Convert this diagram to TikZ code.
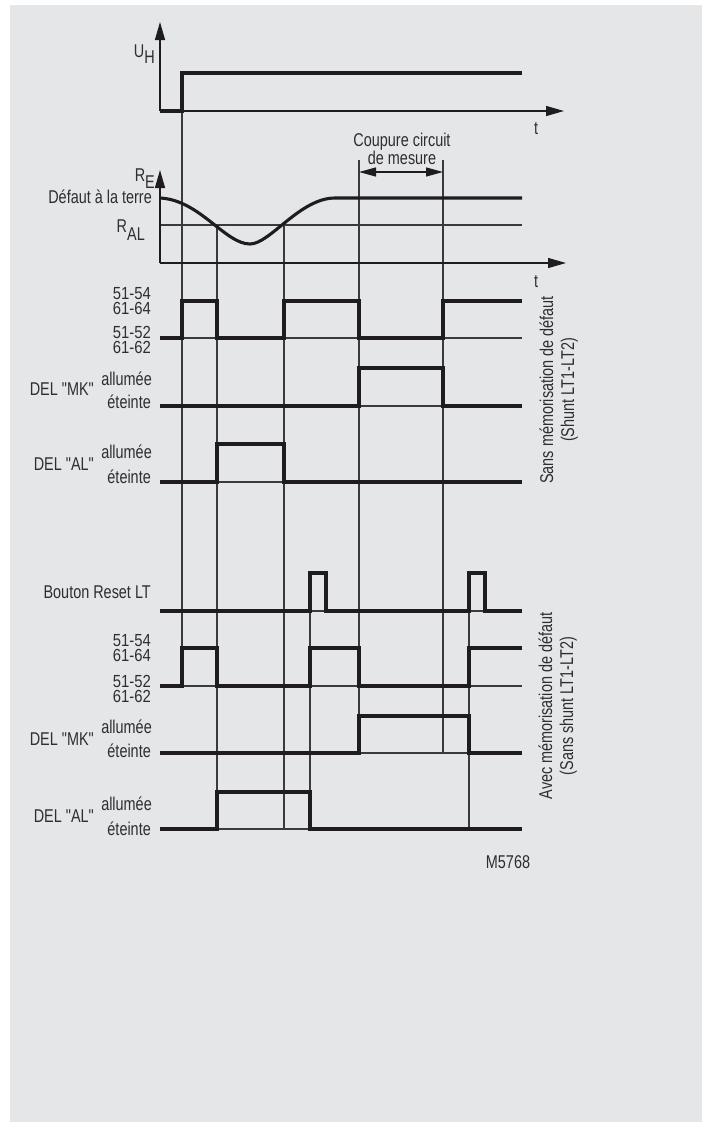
\documentclass[tikz,border=0pt]{standalone}
\usepackage{fontspec}
\setmainfont{Liberation Sans}[FakeStretch=0.78, Ligatures=TeXOff]
\usetikzlibrary{arrows.meta}
\definecolor{bg}{HTML}{E5E6E8}
\definecolor{ink}{HTML}{1E1C1D}
\definecolor{thinc}{HTML}{3A3A3A}
\definecolor{txt}{HTML}{2E2E2E}
\begin{document}
\begin{tikzpicture}[x=1pt,y=-1pt,
  sig/.style={line width=3.1pt, draw=ink, line join=miter, line cap=butt},
  gridl/.style={line width=1.15pt, draw=thinc},
  axisl/.style={line width=1.35pt, draw=ink, -{Triangle[length=18pt,width=10pt]}},
  dimarr/.style={line width=1.25pt, draw=ink, {Triangle[length=17pt,width=9pt]}-{Triangle[length=17pt,width=9pt]}},
  lbl/.style={font=\fontsize{18.5}{14}\selectfont, text=txt, inner sep=0pt},
  num/.style={lbl, font=\fontsize{17.5}{14}\selectfont\addfontfeatures{FakeStretch=0.85}},
  ]
\useasboundingbox (0,0) rectangle (702,1122);
\fill[bg] (10,5) rectangle (702,1122);

% ---------- thin grid lines ----------
\draw[gridl] (182,73) -- (182,686);
\draw[gridl] (217,225) -- (217,830);
\draw[gridl] (284,225) -- (284,830);
\draw[gridl] (359,160) -- (359,753);
\draw[gridl] (443,160) -- (443,753);
\draw[gridl] (310,573) -- (310,830);
\draw[gridl] (469,573) -- (469,830);

\draw[gridl] (160,225) -- (522,225);
\draw[gridl] (160,338) -- (522,338);
\draw[gridl] (160,406) -- (522,406);
\draw[gridl] (160,482) -- (522,482);
\draw[gridl] (160,611) -- (522,611);
\draw[gridl] (160,686) -- (522,686);
\draw[gridl] (160,753) -- (522,753);
\draw[gridl] (160,829) -- (522,829);

% ---------- axes ----------
\draw[axisl] (160,111) -- (160,22);
\draw[axisl] (160,111) -- (564,111);
\draw[axisl] (160,263) -- (160,170);
\draw[axisl] (160,263) -- (566,263);

% ---------- dimension arrow ----------
\draw[dimarr] (359,172) -- (443,172);

% ---------- signals ----------
\draw[sig] (160,111) -- (182,111) -- (182,73) -- (522,73);
\draw[sig] (160,198) .. controls (200,200) and (225,244) .. (250,244)
                     .. controls (270,244) and (300,198) .. (335,198) -- (522,198);
\draw[sig] (160,338) -- (182,338) -- (182,301) -- (217,301) -- (217,338) -- (284,338)
           -- (284,301) -- (359,301) -- (359,338) -- (443,338) -- (443,301) -- (522,301);
\draw[sig] (160,406) -- (359,406) -- (359,368) -- (443,368) -- (443,406) -- (522,406);
\draw[sig] (160,482) -- (217,482) -- (217,444) -- (284,444) -- (284,482) -- (522,482);
\draw[sig] (160,611) -- (310,611) -- (310,573) -- (326,573) -- (326,611) -- (469,611)
           -- (469,573) -- (485,573) -- (485,611) -- (522,611);
\draw[sig] (160,686) -- (182,686) -- (182,648) -- (217,648) -- (217,686) -- (310,686)
           -- (310,648) -- (359,648) -- (359,686) -- (469,686) -- (469,648) -- (522,648);
\draw[sig] (160,753) -- (359,753) -- (359,716) -- (469,716) -- (469,753) -- (522,753);
\draw[sig] (160,829) -- (217,829) -- (217,792) -- (310,792) -- (310,829) -- (522,829);

% ---------- labels ----------
\node[lbl, anchor=base east] (uh) at (155,57) {U\raisebox{-6pt}{H}};
\node[lbl, anchor=base] (t1) at (536,134) {t};
\node[lbl, anchor=base east] (re) at (155,181) {R\raisebox{-7pt}{E}};
\node[lbl, anchor=base east] (def) at (152,203) {Défaut à la terre};
\node[lbl, anchor=base east] (ral) at (145,232) {R\raisebox{-8pt}{AL}};
\node[lbl, anchor=base] (t2) at (536,287) {t};
\node[lbl, anchor=base] (coup1) at (402,146) {Coupure circuit};
\node[lbl, anchor=base] (coup2) at (402,164) {de mesure};

% upper section
\node[num, anchor=base east] (a1) at (151,299) {51-54};
\node[num, anchor=base east] (a2) at (151,314) {61-64};
\node[num, anchor=base east] (a3) at (151,338) {51-52};
\node[num, anchor=base east] (a4) at (151,353) {61-62};
\node[lbl, anchor=base east] (mk1) at (94,395) {DEL "MK"};
\node[lbl, anchor=base east] (mk1a) at (152,385) {allumée};
\node[lbl, anchor=base east] (mk1e) at (151,408) {éteinte};
\node[lbl, anchor=base east] (al1) at (94,470) {DEL "AL"};
\node[lbl, anchor=base east] (al1a) at (152,458) {allumée};
\node[lbl, anchor=base east] (al1e) at (151,483) {éteinte};

% lower section
\node[lbl, anchor=base east] (rst) at (151,598) {Bouton Reset LT};
\node[num, anchor=base east] (b1) at (151,646) {51-54};
\node[num, anchor=base east] (b2) at (151,661) {61-64};
\node[num, anchor=base east] (b3) at (151,687) {51-52};
\node[num, anchor=base east] (b4) at (151,702) {61-62};
\node[lbl, anchor=base east] (mk2) at (94,745) {DEL "MK"};
\node[lbl, anchor=base east] (mk2a) at (152,733) {allumée};
\node[lbl, anchor=base east] (mk2e) at (151,757) {éteinte};
\node[lbl, anchor=base east] (al2) at (94,822) {DEL "AL"};
\node[lbl, anchor=base east] (al2a) at (152,810) {allumée};
\node[lbl, anchor=base east] (al2e) at (151,835) {éteinte};

% side captions
\node[lbl, anchor=base, rotate=90] (s1) at (553,390) {Sans mémorisation de défaut};
\node[lbl, anchor=base, rotate=90] (s2) at (574,390) {(Shunt LT1-LT2)};
\node[lbl, anchor=base, rotate=90] (s3) at (552,706) {Avec mémorisation de défaut};
\node[lbl, anchor=base, rotate=90] (s4) at (573,706) {(Sans shunt LT1-LT2)};

\node[lbl, anchor=base] (ref) at (508,868) {M5768};
\end{tikzpicture}
\end{document}
